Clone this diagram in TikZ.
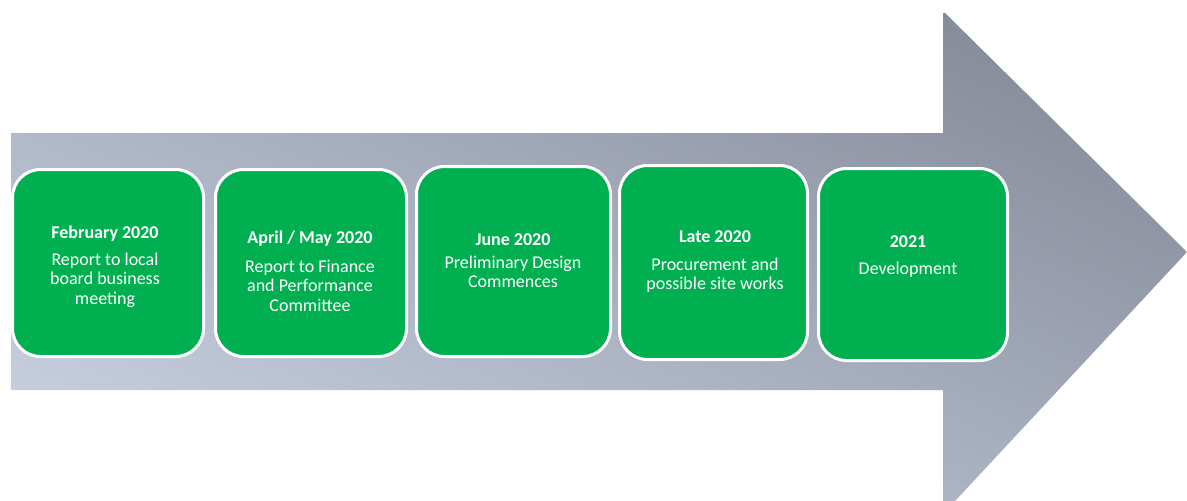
\documentclass[tikz,border=0pt]{standalone}
\usepackage{fontspec}
\setmainfont{Carlito}
\begin{document}
\begin{tikzpicture}[x=1pt,y=-1pt,
  stage/.style={draw=white, line width=3pt, fill=stagegreen, rounded corners=28pt,
    inner sep=0pt},
  title/.style={anchor=base, text=white, inner sep=0pt,
    font=\fontsize{18}{19.5}\selectfont\bfseries},
  body/.style={anchor=base, text=white, inner sep=0pt,
    font=\fontsize{18}{19.5}\selectfont}]
\definecolor{stagegreen}{RGB}{0,176,80}
\definecolor{arrowdark}{RGB}{134,140,154}
\definecolor{arrowlight}{RGB}{198,206,222}
\newcommand{\stacklines}[1]{\begin{tabular}[t]{@{}c@{}}#1\end{tabular}}
\useasboundingbox (0,0) rectangle (1187,501);
% timeline arrow, shaded darker towards the upper right
\begin{scope}
  \clip (11,133) -- (943,133) -- (943,13) -- (945,13) -- (1187,252) -- (955,501)
    -- (943,501) -- (943,390) -- (11,390) -- cycle;
  \begin{scope}[transform canvas={rotate around={-25:(599,257)}}]
    \shade[top color=arrowdark, bottom color=arrowlight]
      (-101,-112) rectangle (1299,626);
  \end{scope}
\end{scope}
% milestone boxes
\node[stage, minimum width=191pt, minimum height=187pt] (s1) at (108,263) {};
\node[stage, minimum width=191pt, minimum height=187pt] (s2) at (311,263) {};
\node[stage, minimum width=194pt, minimum height=190pt] (s3) at (513.5,261.5) {};
\node[stage, minimum width=188pt, minimum height=194pt] (s4) at (713.5,262.5) {};
\node[stage, minimum width=189pt, minimum height=192pt] (s5) at (913,264.5) {};
% milestone texts
\node[title] (t1) at (105,238) {February 2020};
\node[body]  (b1) at (105,265) {\stacklines{Report to local\\board business\\meeting}};
\node[title] (t2) at (310,243) {April / May 2020};
\node[body]  (b2) at (310,272) {\stacklines{Report to Finance\\and Performance\\Committee}};
\node[title] (t3) at (513,245) {June 2020};
\node[body]  (b3) at (513,268) {\stacklines{Preliminary Design\\Commences}};
\node[title] (t4) at (715,242) {Late 2020};
\node[body]  (b4) at (715,270) {\stacklines{Procurement and\\possible site works}};
\node[title] (t5) at (908,247) {2021};
\node[body]  (b5) at (908,274) {\stacklines{Development}};
\end{tikzpicture}
\end{document}
